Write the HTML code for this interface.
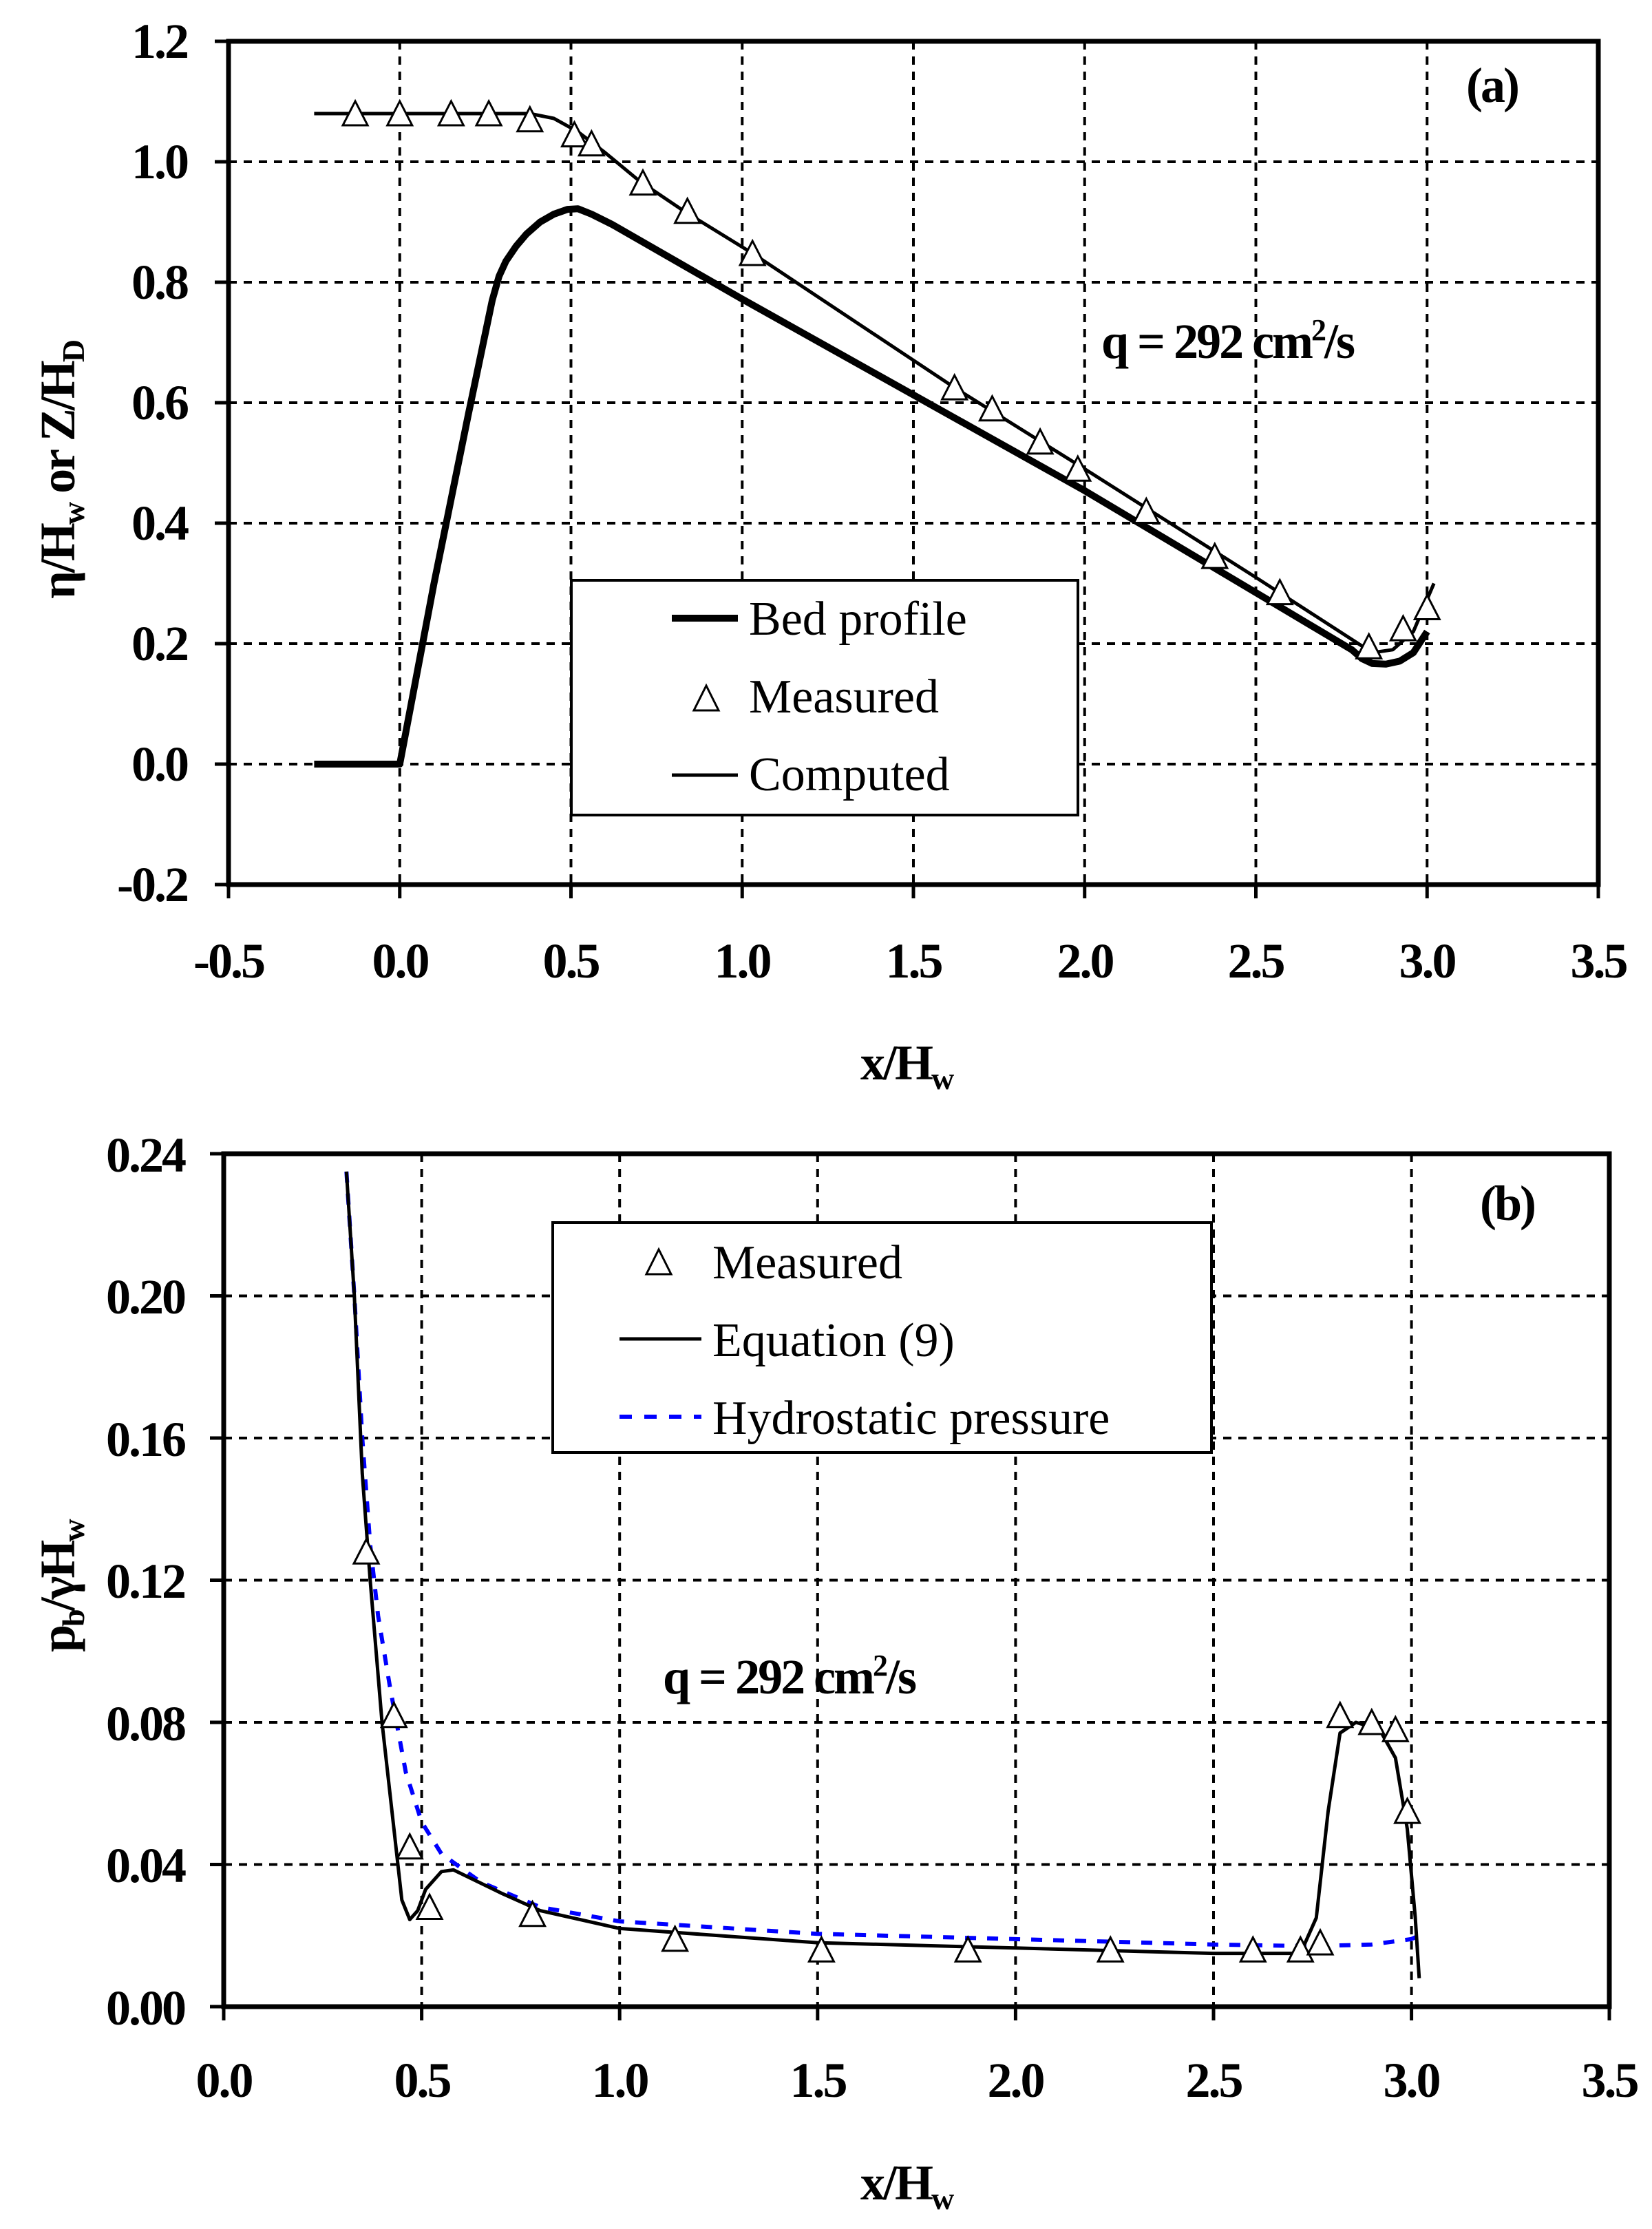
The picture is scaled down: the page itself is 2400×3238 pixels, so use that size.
<!DOCTYPE html>
<html><head><meta charset="utf-8"><style>
html,body{margin:0;padding:0;background:#fff;}
svg{display:block;}
.t{font-family:"Liberation Serif",serif;font-weight:bold;font-size:72px;letter-spacing:-3px;fill:#000;}
.lg{font-family:"Liberation Serif",serif;font-size:70px;fill:#000;}
</style></head><body>
<svg id="s" width="2400" height="3238" xmlns="http://www.w3.org/2000/svg">
<rect width="2400" height="3238" fill="#fff"/>
<g id="grid" stroke="#000" stroke-width="4" stroke-dasharray="12,10" fill="none"></g>
<g id="data"></g>
<rect x="332" y="60" width="1990" height="1225" fill="none" stroke="#000" stroke-width="7"/>
<rect x="325" y="1676" width="2013" height="1239" fill="none" stroke="#000" stroke-width="7"/>
<g id="ticks" stroke="#000" stroke-width="5"></g>

<g class="t" text-anchor="end">
<text x="272" y="84">1.2</text>
<text x="272" y="259">1.0</text>
<text x="272" y="434">0.8</text>
<text x="272" y="609">0.6</text>
<text x="272" y="784">0.4</text>
<text x="272" y="959">0.2</text>
<text x="272" y="1134">0.0</text>
<text x="272" y="1309">-0.2</text>
</g>
<g class="t" text-anchor="middle">
<text x="332" y="1420">-0.5</text>
<text x="581" y="1420">0.0</text>
<text x="829" y="1420">0.5</text>
<text x="1078" y="1420">1.0</text>
<text x="1327" y="1420">1.5</text>
<text x="1576" y="1420">2.0</text>
<text x="1824" y="1420">2.5</text>
<text x="2073" y="1420">3.0</text>
<text x="2322" y="1420">3.5</text>
</g>
<text class="t" x="1250" y="1568">x/H<tspan font-size="46" dy="14">w</tspan></text>
<text class="t" transform="translate(108,870) rotate(-90)">η/H<tspan font-size="46" dy="14">w</tspan><tspan dy="-14"> or Z/H</tspan><tspan font-size="46" dy="14">D</tspan></text>
<text class="t" x="2130" y="148" font-size="58">(a)</text>
<text class="t" x="1600" y="520">q = 292 cm<tspan font-size="44" dy="-26">2</tspan><tspan dy="26">/s</tspan></text>

<rect x="830" y="843" width="736" height="341" fill="#fff" stroke="#000" stroke-width="4"/>
<line x1="976" y1="898" x2="1072" y2="898" stroke="#000" stroke-width="10"/>
<line x1="976" y1="1126" x2="1072" y2="1126" stroke="#000" stroke-width="5"/>
<polygon points="1026,996 1008,1032 1044,1032" fill="#fff" stroke="#000" stroke-width="3"/>
<text class="lg" x="1088" y="922">Bed profile</text>
<text class="lg" x="1088" y="1035">Measured</text>
<text class="lg" x="1088" y="1148">Computed</text>

<g class="t" text-anchor="end">
<text x="268" y="1702">0.24</text>
<text x="268" y="1908">0.20</text>
<text x="268" y="2115">0.16</text>
<text x="268" y="2321">0.12</text>
<text x="268" y="2528">0.08</text>
<text x="268" y="2734">0.04</text>
<text x="268" y="2941">0.00</text>
</g>
<g class="t" text-anchor="middle">
<text x="325" y="3046">0.0</text>
<text x="613" y="3046">0.5</text>
<text x="900" y="3046">1.0</text>
<text x="1188" y="3046">1.5</text>
<text x="1475" y="3046">2.0</text>
<text x="1763" y="3046">2.5</text>
<text x="2050" y="3046">3.0</text>
<text x="2338" y="3046">3.5</text>
</g>
<text class="t" x="1250" y="3195">x/H<tspan font-size="46" dy="14">w</tspan></text>
<text class="t" transform="translate(108,2400) rotate(-90)">p<tspan font-size="46" dy="14">b</tspan><tspan dy="-14">/γH</tspan><tspan font-size="46" dy="14">w</tspan></text>
<text class="t" x="2150" y="1772" font-size="58">(b)</text>
<text class="t" x="963" y="2460">q = 292 cm<tspan font-size="44" dy="-26">2</tspan><tspan dy="26">/s</tspan></text>

<rect x="803" y="1776" width="957" height="334" fill="#fff" stroke="#000" stroke-width="4"/>
<polygon points="957,1815 939,1851 975,1851" fill="#fff" stroke="#000" stroke-width="3"/>
<line x1="900" y1="1945" x2="1019" y2="1945" stroke="#000" stroke-width="5"/>
<line x1="900" y1="2058" x2="1019" y2="2058" stroke="#0000ff" stroke-width="6" stroke-dasharray="18,18"/>
<text class="lg" x="1035" y="1857">Measured</text>
<text class="lg" x="1035" y="1970">Equation (9)</text>
<text class="lg" x="1035" y="2083">Hydrostatic pressure</text>
</svg>
<script>
var NS="http://www.w3.org/2000/svg";
function el(p,t,a){var e=document.createElementNS(NS,t);for(var k in a)e.setAttribute(k,a[k]);p.appendChild(e);return e;}
var grid=document.getElementById('grid'),ticks=document.getElementById('ticks'),data=document.getElementById('data');
function ax(x){return 332+(x+0.5)*497.5;} function ay(y){return 1285-(y+0.2)*875;}
function bx(x){return 325+x*575.1;} function by(y){return 2915-y*5162;}
for(var i=1;i<8;i++){var X=332+i*248.75;el(grid,'line',{x1:X,y1:60,x2:X,y2:1285});el(ticks,'line',{x1:X,y1:1285,x2:X,y2:1305});}
for(var i=1;i<7;i++){var Y=60+i*175;el(grid,'line',{x1:332,y1:Y,x2:2322,y2:Y});}
for(var i=0;i<8;i++){el(ticks,'line',{x1:312,y1:60+i*175,x2:332,y2:60+i*175});}
el(ticks,'line',{x1:332,y1:1285,x2:332,y2:1305});el(ticks,'line',{x1:2322,y1:1285,x2:2322,y2:1305});
for(var i=1;i<7;i++){var X=325+i*287.6;el(grid,'line',{x1:X,y1:1676,x2:X,y2:2915});el(ticks,'line',{x1:X,y1:2915,x2:X,y2:2935});}
for(var i=1;i<6;i++){var Y=1676+i*206.5;el(grid,'line',{x1:325,y1:Y,x2:2338,y2:Y});}
for(var i=0;i<7;i++){el(ticks,'line',{x1:305,y1:1676+i*206.5,x2:325,y2:1676+i*206.5});}
el(ticks,'line',{x1:325,y1:2915,x2:325,y2:2935});el(ticks,'line',{x1:2338,y1:2915,x2:2338,y2:2935});
function pl(pts,fx,fy,attrs){var d=pts.map(function(p,i){return (i?'L':'M')+fx(p[0]).toFixed(1)+' '+fy(p[1]).toFixed(1);}).join(' ');attrs.d=d;attrs.fill='none';attrs['stroke-linejoin']='round';el(data,'path',attrs);}
function tri(x,y){el(data,'polygon',{points:x+','+(y-18)+' '+(x-18)+','+(y+17)+' '+(x+18)+','+(y+17),fill:'#fff',stroke:'#000','stroke-width':3});}
var bed=[[-0.25,0],[0,0],[0.1,0.3],[0.2,0.58],[0.27,0.77],[0.29,0.81],[0.31,0.835],[0.34,0.86],[0.37,0.88],[0.41,0.9],[0.45,0.913],[0.49,0.921],[0.52,0.922],[0.56,0.913],[0.62,0.896],[1.0,0.772],[2.0,0.454],[2.78,0.19],[2.81,0.175],[2.84,0.167],[2.88,0.166],[2.92,0.171],[2.96,0.185],[3.0,0.22]];
pl(bed,ax,ay,{stroke:'#000','stroke-width':10});
var comp=[[-0.25,1.08],[0.38,1.08],[0.45,1.072],[0.52,1.05],[0.6,1.015],[0.7,0.968],[0.83,0.918],[1.03,0.848],[1.62,0.625],[2.0,0.49],[2.5,0.31],[2.84,0.185],[2.9,0.19],[2.96,0.22],[3.02,0.3]];
pl(comp,ax,ay,{stroke:'#000','stroke-width':5});
[[-0.13,1.08],[0,1.08],[0.15,1.08],[0.26,1.08],[0.38,1.07],[0.51,1.045],[0.56,1.03],[0.71,0.965],[0.84,0.918],[1.03,0.848],[1.62,0.625],[1.73,0.59],[1.87,0.535],[1.98,0.49],[2.18,0.42],[2.38,0.345],[2.57,0.285],[2.83,0.195],[2.93,0.225],[3.0,0.26]].forEach(function(p){tri(ax(p[0]),ay(p[1]));});
var hyd=[[0.31,0.235],[0.33,0.2],[0.35,0.16],[0.37,0.13],[0.39,0.11],[0.42,0.09],[0.46,0.066],[0.5,0.052],[0.55,0.043],[0.65,0.035],[0.8,0.028],[1.0,0.024],[1.5,0.0205],[2.0,0.019],[2.5,0.0175],[2.75,0.017],[2.9,0.0175],[3.0,0.019],[3.02,0.02]];
pl(hyd,bx,by,{stroke:'#0000ff','stroke-width':6,'stroke-dasharray':'16,16'});
var eq=[[0.31,0.235],[0.33,0.2],[0.35,0.15],[0.37,0.12],[0.40,0.08],[0.43,0.05],[0.45,0.03],[0.47,0.0245],[0.49,0.027],[0.51,0.033],[0.55,0.038],[0.58,0.0385],[0.7,0.032],[0.8,0.027],[1.0,0.022],[1.5,0.018],[2.0,0.0165],[2.5,0.015],[2.72,0.015],[2.76,0.025],[2.79,0.055],[2.82,0.077],[2.86,0.08],[2.92,0.078],[2.96,0.07],[2.99,0.05],[3.01,0.025],[3.02,0.008]];
pl(eq,bx,by,{stroke:'#000','stroke-width':5});
[[0.36,0.128],[0.43,0.082],[0.47,0.045],[0.52,0.028],[0.78,0.026],[1.14,0.019],[1.51,0.016],[1.88,0.016],[2.24,0.016],[2.6,0.016],[2.72,0.016],[2.77,0.018],[2.82,0.082],[2.9,0.08],[2.96,0.078],[2.99,0.055]].forEach(function(p){tri(bx(p[0]),by(p[1]));});
</script>
</body></html>
